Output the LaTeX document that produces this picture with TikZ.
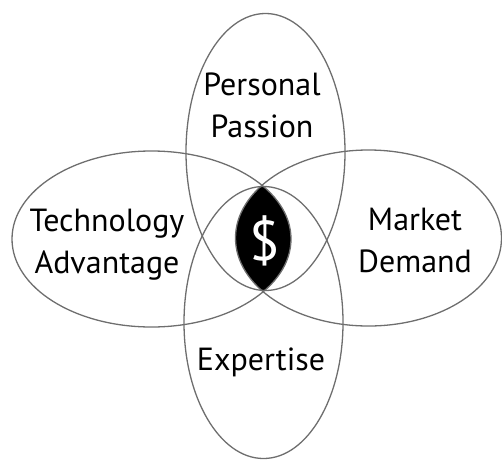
\documentclass[tikz,border=0pt]{standalone}
\usepackage{fontspec}
\setmainfont{PT Sans}
\usepackage{tikz}
\usetikzlibrary{positioning}

\definecolor{ringgray}{HTML}{6E6E6E}
\newcommand\labelfont{\fontsize{32}{42}\selectfont}

\begin{document}
\begin{tikzpicture}[x=1pt,y=-1pt,
    every node/.style={font=\labelfont,align=center,inner sep=0pt},
    ring/.style={draw=ringgray,line width=1.3pt}]
  \useasboundingbox (0,0) rectangle (502,460);

  % overlap of all four sets
  \begin{scope}
    \clip (151.5,239) ellipse [x radius=139.5, y radius=88];
    \clip (265.5,152) ellipse [x radius=79.5, y radius=138.5];
    \clip (263.5,322.5) ellipse [x radius=79.5, y radius=136];
    \fill[black] (368.5,238) ellipse [x radius=133, y radius=88];
  \end{scope}

  % the four sets
  \draw[ring] (265.5,152) ellipse [x radius=79.5, y radius=138.5];
  \draw[ring] (263.5,322.5) ellipse [x radius=79.5, y radius=136];
  \draw[ring] (151.5,239) ellipse [x radius=139.5, y radius=88];
  \draw[ring] (368.5,238) ellipse [x radius=133, y radius=88];

  % labels, anchored on the baseline of the last line
  \node[anchor=base] (passion) at (262,137) {Personal\\Passion};
  \node[anchor=base] (tech) at (107,273) {Technology\\Advantage};
  \node[anchor=base] (market) at (415,272) {Market\\Demand};
  \node[anchor=base] (expertise) at (261,370) {Expertise};
  \node[text=white,font=\fontsize{56}{56}\selectfont] (money) at (264.5,241) {\$};
\end{tikzpicture}
\end{document}
